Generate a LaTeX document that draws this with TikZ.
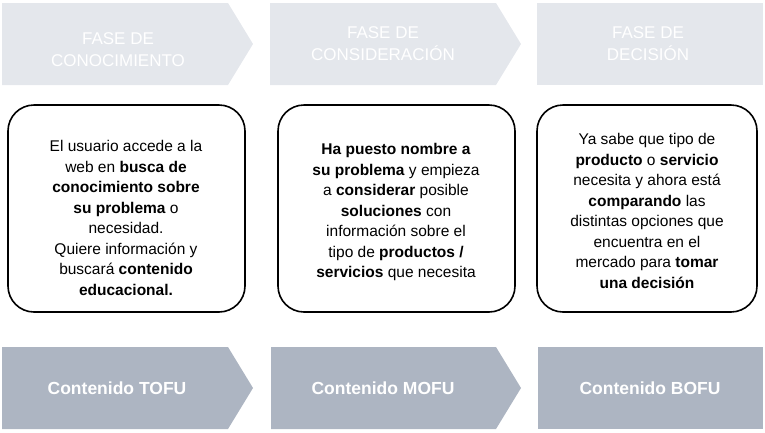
\documentclass[tikz,border=0pt]{standalone}
\usepackage{fontspec}
\setmainfont{Liberation Sans}
\definecolor{topc}{HTML}{E4E7EC}
\definecolor{botc}{HTML}{ADB5C2}
\begin{document}
\begin{tikzpicture}[x=1pt,y=-1pt,
  txt/.style={align=center,font=\fontsize{15.5}{20.5}\selectfont},
  hdr/.style={align=center,text=white,font=\fontsize{17}{22}\selectfont},
  ftr/.style={text=white,font=\bfseries\fontsize{17.5}{20}\selectfont},
  card/.style={draw=black,line width=1.6pt,rounded corners=26pt}]
\useasboundingbox (0,0) rectangle (765,432);
% top arrows
\fill[topc] (2,3) -- (228,3) -- (253,44) -- (228,85) -- (2,85) -- cycle;
\fill[topc] (270,3) -- (496,3) -- (521,44) -- (496,85) -- (270,85) -- cycle;
\fill[topc] (537,3) -- (763,3) -- (763,85) -- (537,85) -- cycle;
\node[hdr] (h1) at (118,50) {FASE DE\\CONOCIMIENTO};
\node[hdr] (h2) at (383,44) {FASE DE\\CONSIDERACIÓN};
\node[hdr] (h3) at (648,44) {FASE DE\\DECISIÓN};
% cards
\draw[card] (8,105) rectangle (245,312);
\draw[card] (278,105) rectangle (515,312);
\draw[card] (537,105) rectangle (757,312);
\node[txt] (t1) at (126,218) {El usuario accede a la\\web en \textbf{busca de}\\\textbf{conocimiento sobre}\\\textbf{su problema} o\\necesidad.\\Quiere información y\\buscará \textbf{contenido}\\\textbf{educacional.}};
\node[txt] (t2) at (396,212) {\textbf{Ha puesto nombre a}\\\textbf{su problema} y empieza\\a \textbf{considerar} posible\\\textbf{soluciones} con\\información sobre el\\tipo de \textbf{productos /}\\\textbf{servicios} que necesita};
\node[txt] (t3) at (647,211) {Ya sabe que tipo de\\\textbf{producto} o \textbf{servicio}\\necesita y ahora está\\\textbf{comparando} las\\distintas opciones que\\encuentra en el\\mercado para \textbf{tomar}\\\textbf{una decisión}};
% bottom arrows
\fill[botc] (2,347) -- (228,347) -- (253,388) -- (228,429) -- (2,429) -- cycle;
\fill[botc] (271,347) -- (496,347) -- (521,388) -- (496,429) -- (271,429) -- cycle;
\fill[botc] (538,347) -- (763,347) -- (763,429) -- (538,429) -- cycle;
\node[ftr] (f1) at (117,388) {Contenido TOFU};
\node[ftr] (f2) at (383,388) {Contenido MOFU};
\node[ftr] (f3) at (650,388) {Contenido BOFU};
\end{tikzpicture}
\end{document}
